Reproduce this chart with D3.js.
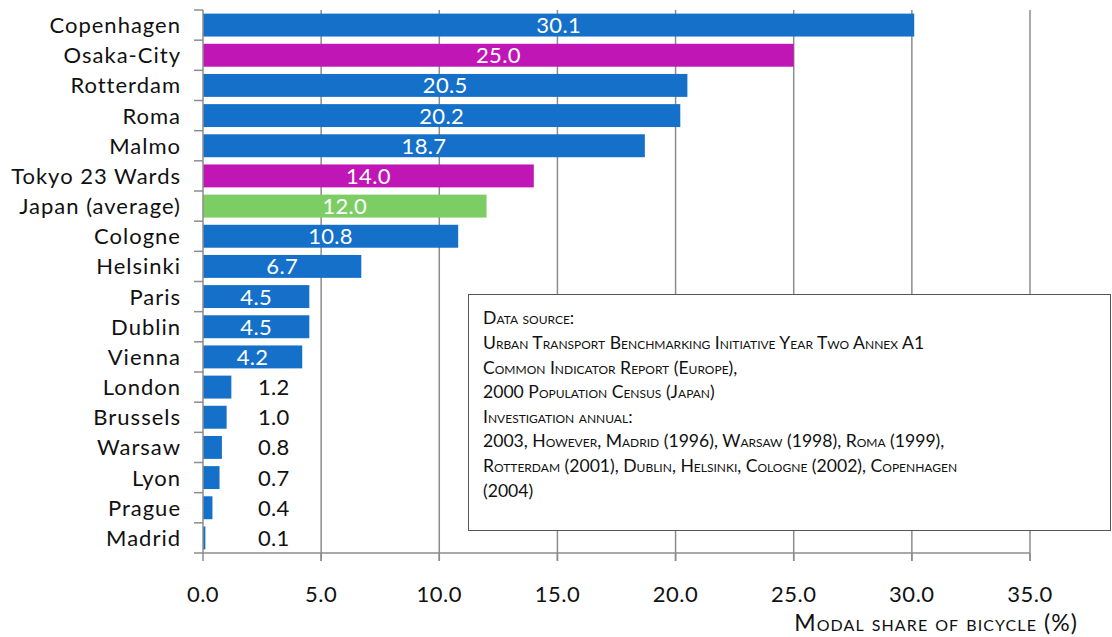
<!DOCTYPE html>
<html>
<head>
<meta charset="utf-8">
<script src="https://cdn.jsdelivr.net/npm/d3@7"></script>
<style>
  body { margin: 0; background: #fff; }
  text { font-family: Lato, "Open Sans", sans-serif; }
</style>
</head>
<body>
<svg id="chart"></svg>
<script>
let cities = ["Copenhagen", "Osaka-City", "Rotterdam", "Roma", "Malmo", "Tokyo 23 Wards",
  "Japan (average)", "Cologne", "Helsinki", "Paris", "Dublin", "Vienna", "London",
  "Brussels", "Warsaw", "Lyon", "Prague", "Madrid"]
let shares = [30.1, 25.0, 20.5, 20.2, 18.7, 14.0, 12.0, 10.8, 6.7, 4.5, 4.5, 4.2, 1.2, 1.0, 0.8, 0.7, 0.4, 0.1]
let groups = ["eu", "jp", "eu", "eu", "eu", "jp", "avg", "eu", "eu", "eu", "eu", "eu", "eu", "eu", "eu", "eu", "eu", "eu"]
let xTicks = [0, 5, 10, 15, 20, 25, 30, 35]
let noteLines = [
  "Data source:",
  "Urban Transport Benchmarking Initiative Year Two Annex A1",
  "Common Indicator Report (Europe),",
  "2000 Population Census (Japan)",
  "Investigation annual:",
  "2003, However, Madrid (1996), Warsaw (1998), Roma (1999),",
  "Rotterdam (2001), Dublin, Helsinki, Cologne (2002), Copenhagen",
  "(2004)"
]

let colors = {eu: "#1470c8", jp: "#c116b6", avg: "#7dcd65"}
let data = cities.map((c, i) => ({city: c, value: shares[i], group: groups[i]}))

let w = 1112, h = 637
let plotLeft = 203, plotRight = 1030, plotTop = 10, plotBottom = 553

let svg = d3.select("#chart").attr("width", w).attr("height", h)

let x = d3.scaleLinear().domain([0, 35]).range([plotLeft, plotRight])
let y = d3.scaleBand().domain(cities).range([plotTop, plotBottom]).paddingInner(0.24).paddingOuter(0.12)

// gridlines
svg.append("g")
  .selectAll("line")
  .data(xTicks.slice(1))
  .enter()
  .append("line")
  .attr("x1", d => x(d)).attr("x2", d => x(d))
  .attr("y1", plotTop).attr("y2", plotBottom + 8)
  .style("stroke", "#8c8c8c")
  .style("stroke-width", 1.5)

// bars
svg.append("g")
  .selectAll("rect")
  .data(data)
  .enter()
  .append("rect")
  .attr("x", x(0))
  .attr("y", d => y(d.city))
  .attr("width", d => x(d.value) - x(0))
  .attr("height", y.bandwidth())
  .style("fill", d => colors[d.group])

// value labels, small bars get theirs outside in black
svg.append("g")
  .selectAll("text")
  .data(data)
  .enter()
  .append("text")
  .attr("x", d => d.value >= 2 ? x(d.value / 2) : x(3.0))
  .attr("y", d => y(d.city) + y.bandwidth() / 2)
  .attr("dy", "0.36em")
  .attr("text-anchor", "middle")
  .style("font-size", "22px")
  .style("letter-spacing", "0.3px")
  .style("fill", d => d.value >= 2 ? "#fff" : "#111")
  .text(d => d.value.toFixed(1))

// y axis
let yBands = d3.scaleLinear().domain([0, cities.length]).range([plotTop, plotBottom])
let yAxis = svg.append("g")
yAxis.append("line")
  .attr("x1", plotLeft).attr("x2", plotLeft).attr("y1", plotTop).attr("y2", plotBottom)
  .style("stroke", "#8c8c8c").style("stroke-width", 1.5)
yAxis.selectAll(".tk")
  .data(d3.range(cities.length + 1))
  .enter()
  .append("line")
  .attr("x1", plotLeft - 9).attr("x2", plotLeft)
  .attr("y1", d => yBands(d)).attr("y2", d => yBands(d))
  .style("stroke", "#8c8c8c").style("stroke-width", 1.5)
yAxis.selectAll("text")
  .data(cities)
  .enter()
  .append("text")
  .attr("x", plotLeft - 22)
  .attr("y", d => y(d) + y.bandwidth() / 2)
  .attr("dy", "0.36em")
  .attr("text-anchor", "end")
  .style("font-size", "22px")
  .style("letter-spacing", "1px")
  .style("fill", "#111")
  .text(d => d)

// x axis
let xAxis = svg.append("g")
xAxis.append("line")
  .attr("x1", plotLeft).attr("x2", plotRight).attr("y1", plotBottom).attr("y2", plotBottom)
  .style("stroke", "#8c8c8c").style("stroke-width", 1.5)
xAxis.selectAll(".tk")
  .data(xTicks)
  .enter()
  .append("line")
  .attr("x1", d => x(d)).attr("x2", d => x(d))
  .attr("y1", plotBottom).attr("y2", plotBottom + 8)
  .style("stroke", "#8c8c8c").style("stroke-width", 1.5)
xAxis.selectAll("text")
  .data(xTicks)
  .enter()
  .append("text")
  .attr("x", d => x(d))
  .attr("y", 594)
  .attr("dy", "0.36em")
  .attr("text-anchor", "middle")
  .style("font-size", "22px")
  .style("letter-spacing", "0.5px")
  .style("fill", "#111")
  .text(d => d.toFixed(1))

svg.append("text")
  .attr("x", 1078)
  .attr("y", 623)
  .attr("dy", "0.36em")
  .attr("text-anchor", "end")
  .style("font-size", "23px")
  .style("letter-spacing", "1.1px")
  .style("font-variant", "small-caps")
  .style("fill", "#111")
  .text("Modal share of bicycle (%)")

// note box
let note = svg.append("g")
note.append("rect")
  .attr("x", 468.5).attr("y", 294.5)
  .attr("width", 642).attr("height", 236)
  .style("fill", "#fff")
  .style("stroke", "#555")
  .style("stroke-width", 1)
note.selectAll("text")
  .data(noteLines)
  .enter()
  .append("text")
  .attr("x", 483)
  .attr("y", (d, i) => 318 + i * 24.6)
  .attr("dy", "0.36em")
  .style("font-size", "17.6px")
  .style("font-variant", "small-caps")
  .style("fill", "#111")
  .text(d => d)
</script>
</body>
</html>
